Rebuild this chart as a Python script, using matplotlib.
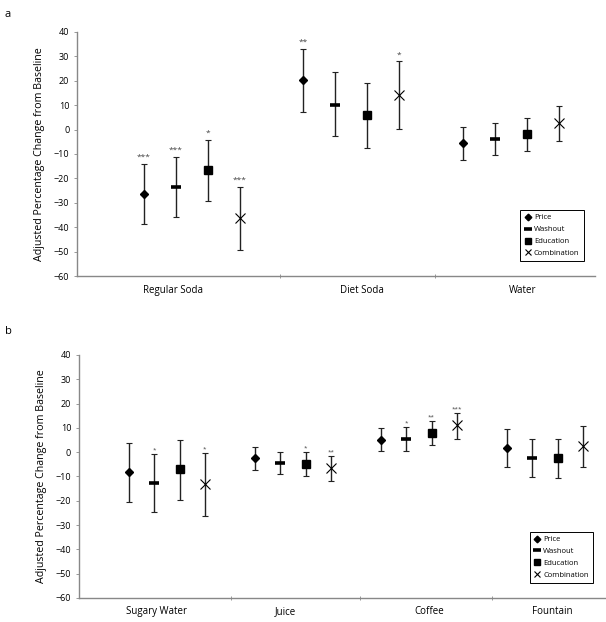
import matplotlib.pyplot as plt
import numpy as np

plt.rcParams['font.family'] = ['Open Sans', 'DejaVu Sans']

treatments = ["Price", "Washout", "Education", "Combination"]

# panel a
cats_a = ["Regular Soda", "Diet Soda", "Water"]
mean_a = [[-26.3, -23.5, -16.5, -36.3],
          [20.1, 10.2, 5.8, 14.2],
          [-5.5, -3.8, -2.0, 2.6]]
upper_a = [[-14.0, -11.3, -4.2, -23.5],
           [33.0, 23.4, 19.0, 27.9],
           [1.0, 2.7, 4.9, 9.7]]
lower_a = [[-38.7, -35.8, -29.1, -49.3],
           [7.0, -2.7, -7.6, 0.4],
           [-12.4, -10.5, -8.8, -4.9]]
stars_a = [["***", "***", "*", "***"],
           ["**", "", "", "*"],
           ["", "", "", ""]]

# panel b
cats_b = ["Sugary Water", "Juice", "Coffee", "Fountain"]
mean_b = [[-8.2, -12.6, -7.1, -13.2],
          [-2.5, -4.4, -4.8, -6.6],
          [5.2, 5.4, 8.0, 11.3],
          [1.8, -2.2, -2.6, 2.5]]
upper_b = [[3.9, -0.7, 5.2, -0.3],
           [2.1, 0.2, 0.0, -1.6],
           [9.9, 10.3, 12.8, 16.2],
           [9.6, 5.6, 5.5, 10.7]]
lower_b = [[-20.3, -24.7, -19.5, -26.3],
           [-7.3, -9.0, -9.7, -11.8],
           [0.3, 0.4, 2.8, 5.5],
           [-6.0, -10.1, -10.7, -6.0]]
stars_b = [["", "*", "", "*"],
           ["", "", "*", "**"],
           ["", "*", "**", "***"],
           ["", "", "", ""]]

markers = {"Price": dict(marker="D", ms=4.5),
           "Washout": dict(marker="_", ms=7, mew=2.6),
           "Education": dict(marker="s", ms=6.2),
           "Combination": dict(marker="x", ms=6.5, mew=0.8)}


def draw_panel(ax, cats, means, uppers, lowers, stars, xlim, tick_pos, label_pos, star_fs, star_off):
    for g in range(len(cats)):
        for j, t in enumerate(treatments):
            x = g * 5 + j
            m = means[g][j]
            ax.errorbar([x], [m], yerr=[[m - lowers[g][j]], [uppers[g][j] - m]],
                        fmt="none", ecolor="#222222", elinewidth=1.0, capsize=2.5,
                        capthick=0.8, zorder=2)
            ax.plot([x], [m], color="black", ls="none",
                    label=t if g == 0 else None, zorder=3, **markers[t])
            if stars[g][j]:
                ax.text(x, uppers[g][j] + star_off, stars[g][j], ha="center",
                        va="bottom", fontsize=star_fs, color="#444444")

    ax.set_xlim(*xlim)
    ax.set_ylim(-60, 40)
    ax.set_yticks(np.arange(-60, 41, 10))
    ax.set_xticks(tick_pos)
    ax.set_xticklabels([])
    ax.set_xticks(label_pos, minor=True)
    ax.set_xticklabels(cats, minor=True, fontsize=7)
    ax.tick_params(axis="x", which="major", length=3, width=0.6, color="#888888", direction="inout")
    ax.tick_params(axis="x", which="minor", length=0, pad=6)
    ax.tick_params(axis="y", length=2.5, width=0.6, color="#888888", labelsize=6.5, pad=3)
    for s in ["top", "right"]:
        ax.spines[s].set_visible(False)
    for s in ["left", "bottom"]:
        ax.spines[s].set_color("#888888")
        ax.spines[s].set_linewidth(1.0)
    ax.set_ylabel("Adjusted Percentage Change from Baseline", fontsize=7.7, labelpad=6)
    leg = ax.legend(loc="lower right", bbox_to_anchor=(0.985, 0.045), fontsize=5.5,
                    frameon=True, fancybox=False, edgecolor="black", framealpha=1,
                    handlelength=0.8, handletextpad=0.4, labelspacing=0.6,
                    borderpad=0.55, numpoints=1, markerscale=0.75)
    leg.get_frame().set_linewidth(0.7)


fig = plt.figure(figsize=(6.06, 6.22), dpi=100)
ax_a = fig.add_axes([0.127, 0.556, 0.855, 0.393])
ax_b = fig.add_axes([0.130, 0.0386, 0.868, 0.3907])

draw_panel(ax_a, cats_a, mean_a, upper_a, lower_a, stars_a,
           xlim=(-2.1, 14.14), tick_pos=[4.26, 9.12], label_pos=[0.9, 6.83, 11.88],
           star_fs=6, star_off=1.2)
draw_panel(ax_b, cats_b, mean_b, upper_b, lower_b, stars_b,
           xlim=(-2.0, 18.87), tick_pos=[4.03, 9.14, 14.4], label_pos=[1.1, 6.2, 11.9, 16.8],
           star_fs=4.5, star_off=0.6)

fig.text(0.008, 0.985, "a", fontsize=8, va="top")
fig.text(0.008, 0.476, "b", fontsize=8, va="top")

fig.savefig("out.png", dpi=100)
